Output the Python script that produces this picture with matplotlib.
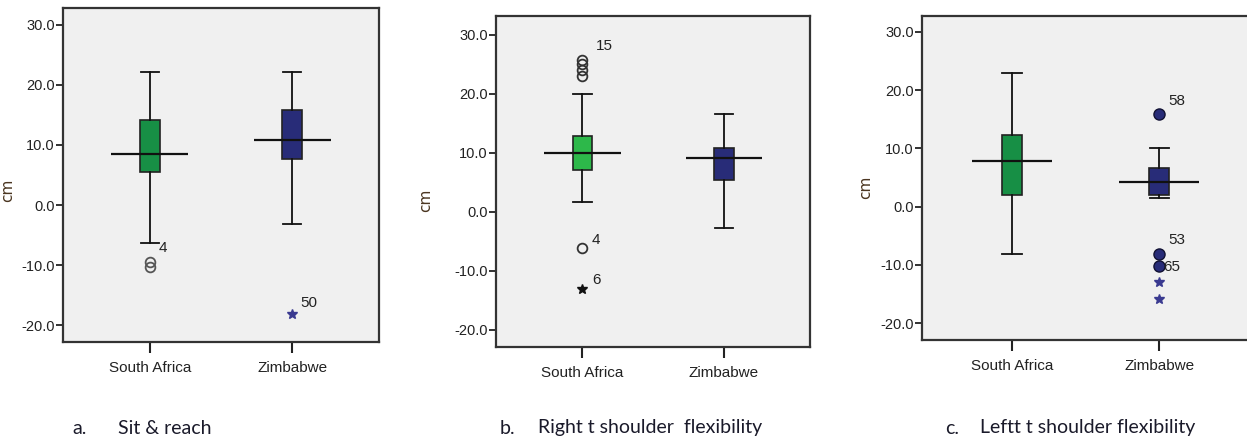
import matplotlib
matplotlib.use("Agg")
import matplotlib.pyplot as plt
from matplotlib import font_manager

groups = ["South Africa", "Zimbabwe"]
yticks = [-20.0, -10.0, 0.0, 10.0, 20.0, 30.0]

# a. sit & reach
sit_lo = [-6.3, -3.2]
sit_q1 = [5.5, 7.7]
sit_med = [8.5, 10.9]
sit_q3 = [14.2, 15.8]
sit_hi = [22.1, 22.1]

# b. right shoulder
rs_lo = [1.7, -2.8]
rs_q1 = [7.1, 5.4]
rs_med = [10.0, 9.2]
rs_q3 = [12.9, 10.8]
rs_hi = [20.0, 16.6]

# c. left shoulder
ls_lo = [-8.1, 1.5]
ls_q1 = [1.9, 1.9]
ls_med = [7.9, 4.2]
ls_q3 = [12.2, 6.7]
ls_hi = [22.9, 10.0]

# outliers: (group index, value)
sit_circles = [(0, -9.5), (0, -10.3)]
sit_stars = [(1, -18.2)]
sit_labels = [(0, -6.3, "4"), (1, -18.2, "50")]

rs_circles = [(0, 23.0), (0, 24.0), (0, 25.0), (0, 25.8), (0, -6.1)]
rs_stars = [(0, -13.0)]
rs_labels = [(0, 25.8, "15"), (0, -6.1, "4"), (0, -13.0, "6")]

ls_circles = [(1, 15.8), (1, -8.1), (1, -10.2)]
ls_stars = [(1, -12.9), (1, -15.8)]
ls_labels = [(1, 15.8, "58"), (1, -8.1, "53"), (1, -10.2, "65")]

captions = [("a.", "Sit & reach"), ("b.", "Right t shoulder  flexibility"),
            ("c.", "Leftt t shoulder flexibility")]

names = [f.name for f in font_manager.fontManager.ttflist]
narrow = "Liberation Sans Narrow" if "Liberation Sans Narrow" in names else "Liberation Sans"

navy = "#282c78"
panels = [
    dict(lo=sit_lo, q1=sit_q1, med=sit_med, q3=sit_q3, hi=sit_hi,
         colors=["#178f45", navy], circles=sit_circles, stars=sit_stars,
         labels=sit_labels, offs=[(6, -4), (6, 8)],
         circ_fill=False, circ_col="#555555", star_col="#3a3a90",
         rect=[0.0505, 0.2245, 0.2535, 0.7575], ylim=(-22.8, 32.8),
         cm=(-0.152, 0.455)),
    dict(lo=rs_lo, q1=rs_q1, med=rs_med, q3=rs_q3, hi=rs_hi,
         colors=["#2db84a", navy], circles=rs_circles, stars=rs_stars,
         labels=rs_labels, offs=[(10, 10), (7, 6), (7, 6)],
         circ_fill=False, circ_col="#333333", star_col="#111111",
         rect=[0.3978, 0.2132, 0.2518, 0.7505], ylim=(-22.9, 33.2),
         cm=(-0.2, 0.444)),
    dict(lo=ls_lo, q1=ls_q1, med=ls_med, q3=ls_q3, hi=ls_hi,
         colors=["#178f45", navy], circles=ls_circles, stars=ls_stars,
         labels=ls_labels, offs=[(7, 10), (7, 10), (3, -1)],
         circ_fill=True, circ_col=navy, star_col="#3a3a90",
         rect=[0.7394, 0.229, 0.2622, 0.7347], ylim=(-22.9, 32.7),
         cm=(-0.15, 0.47)),
]

fig = plt.figure(figsize=(12.47, 4.41), dpi=100)
pos = [1, 2]

for i, p in enumerate(panels):
    ax = fig.add_axes(p["rect"])
    ax.set_facecolor("#f0f0f0")
    stats = []
    for g in range(2):
        stats.append(dict(whislo=p["lo"][g], q1=p["q1"][g], med=p["med"][g],
                          q3=p["q3"][g], whishi=p["hi"][g]))
    bp = ax.bxp(stats, positions=pos, widths=0.14, capwidths=0.13,
                patch_artist=True, showfliers=False,
                boxprops=dict(edgecolor="#222222", linewidth=1.2),
                whiskerprops=dict(color="#111111", linewidth=1.3),
                capprops=dict(color="#111111", linewidth=1.3),
                medianprops=dict(color="#111111", linewidth=1.3))
    for patch, c in zip(bp["boxes"], p["colors"]):
        patch.set_facecolor(c)
    ax.hlines(p["med"], [x - 0.27 for x in pos], [x + 0.27 for x in pos],
              colors="#111111", linewidth=1.6, zorder=4)

    cx = [pos[g] for g, v in p["circles"]]
    cy = [v for g, v in p["circles"]]
    if p["circ_fill"]:
        ax.plot(cx, cy, "o", ms=8, mfc=p["circ_col"], mec="#111133", mew=1.0, ls="none")
    else:
        ax.plot(cx, cy, "o", ms=7, mfc="none", mec=p["circ_col"], mew=1.3, ls="none")
    sx = [pos[g] for g, v in p["stars"]]
    sy = [v for g, v in p["stars"]]
    ax.plot(sx, sy, "*", ms=7, color=p["star_col"], ls="none")
    for (g, v, t), off in zip(p["labels"], p["offs"]):
        ax.annotate(t, (pos[g], v), xytext=off, textcoords="offset points",
                    fontsize=11, family=narrow, color="#222222", va="center")

    ax.set_xlim(0.389, 2.611)
    ax.set_ylim(*p["ylim"])
    ax.set_xticks(pos)
    ax.set_xticklabels(groups, family=narrow, fontsize=11, color="#222222")
    ax.set_yticks(yticks)
    ax.set_yticklabels([f"{v:.1f}" for v in yticks], family=narrow,
                       fontsize=10.5, color="#222222")
    ax.tick_params(axis="y", length=5, width=1.3, color="#222222", pad=1)
    ax.tick_params(axis="x", length=8, width=1.5, color="#222222", pad=6)
    for s in ax.spines.values():
        s.set_color("#333333")
        s.set_linewidth(1.6)
    ax.set_ylabel("cm", fontsize=11, color="#4a3520")
    ax.yaxis.set_label_coords(*p["cm"])

cap_x = [(72, 118), (500, 538), (945, 980)]
for (lx, tx), (a, t) in zip(cap_x, captions):
    fig.text(lx / 1247, 1 - 428 / 441, a, fontsize=14, family="Lato",
             color="#1a1a2a", va="center")
    fig.text(tx / 1247, 1 - 428 / 441, t, fontsize=14, family="Lato",
             color="#1a1a2a", va="center")

fig.savefig("out.png", dpi=100, facecolor="white")
